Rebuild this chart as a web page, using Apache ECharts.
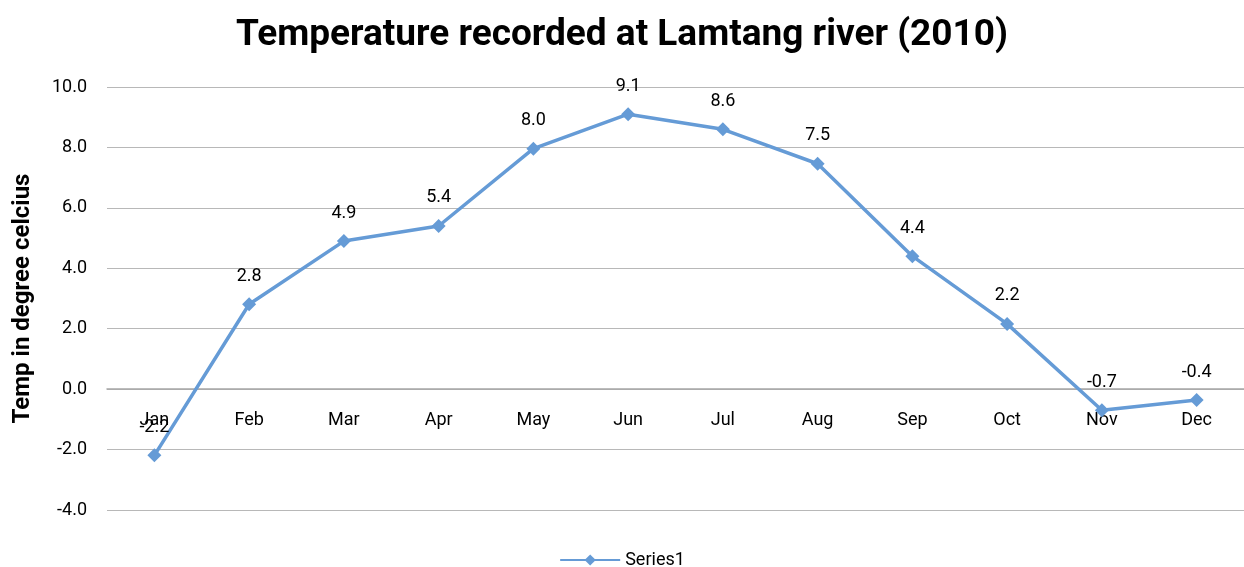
<!DOCTYPE html>
<html>
<head>
<meta charset="utf-8">
<script src="https://cdn.jsdelivr.net/npm/echarts@6/dist/echarts.min.js"></script>
<style>
  html, body { margin: 0; padding: 0; background: #fff; }
  #main { width: 1244px; height: 567px; }
</style>
</head>
<body>
<div id="main"></div>
<script>
// monthly readings
var months = ['Jan', 'Feb', 'Mar', 'Apr', 'May', 'Jun', 'Jul', 'Aug', 'Sep', 'Oct', 'Nov', 'Dec'];
var temps = [-2.19, 2.81, 4.9, 5.4, 7.96, 9.1, 8.6, 7.46, 4.4, 2.16, -0.7, -0.36];
var seriesName = 'Series1';
var yMin = -4, yMax = 10, yStep = 2;

var chart = echarts.init(document.getElementById('main'));
var font = 'Roboto';
var gridTop = 87, gridBottom = 57;
var plotH = 567 - gridTop - gridBottom;
// category axis sits on the zero line, like excel
var zeroOffset = -plotH * (0 - yMin) / (yMax - yMin);

chart.setOption({
    animation: false,
    title: {
        text: 'Temperature recorded at Lamtang river (2010)',
        left: 'center',
        top: 12,
        textStyle: { fontFamily: font, fontSize: 37, fontWeight: 'bold', color: '#000' }
    },
    legend: {
        top: 546,
        left: 'center',
        itemWidth: 60,
        itemHeight: 14,
        data: [seriesName],
        textStyle: { fontFamily: font, fontSize: 18, color: '#000' }
    },
    grid: { left: 107, right: -1, top: gridTop, bottom: gridBottom },
    xAxis: {
        type: 'category',
        data: months,
        boundaryGap: true,
        position: 'bottom',
        offset: zeroOffset,
        axisLine: { onZero: false, lineStyle: { color: '#a6a6a6', width: 1.5 } },
        axisTick: { show: false },
        axisLabel: { margin: 22, fontFamily: font, fontSize: 18, color: '#000' }
    },
    yAxis: {
        type: 'value',
        min: yMin,
        max: yMax,
        interval: yStep,
        name: 'Temp in degree celcius',
        nameLocation: 'middle',
        nameGap: 72,
        nameTextStyle: { fontFamily: font, fontSize: 24, fontWeight: 'bold', color: '#000' },
        axisLine: { show: false },
        axisTick: { show: false },
        splitLine: { lineStyle: { color: '#b8b8b8', width: 1.2 } },
        axisLabel: {
            margin: 20,
            fontFamily: font, fontSize: 18, color: '#000',
            formatter: function (v) { return v.toFixed(1); }
        }
    },
    series: [{
        name: seriesName,
        type: 'line',
        data: temps,
        symbol: 'diamond',
        symbolSize: 14,
        lineStyle: { color: '#659bd6', width: 3.5 },
        itemStyle: { color: '#659bd6' },
        label: {
            show: true,
            position: 'top',
            distance: 12,
            fontFamily: font, fontSize: 18, color: '#000',
            formatter: function (p) { return p.value.toFixed(1); }
        }
    }]
});
</script>
</body>
</html>
